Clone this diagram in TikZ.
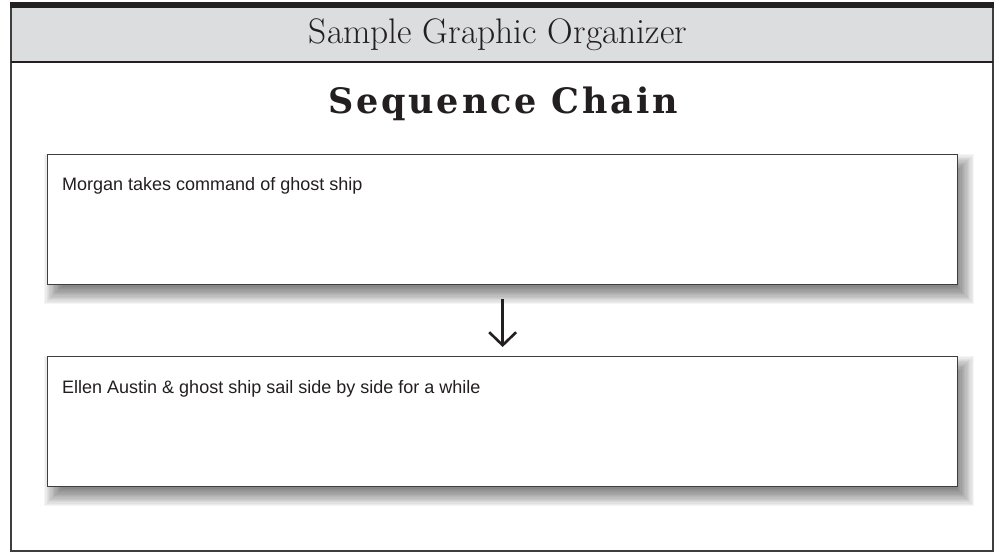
\documentclass[tikz,border=0pt]{standalone}
\usepackage{fontspec}
\newfontfamily\handfont{Liberation Sans}
\newfontfamily\slabfont[LetterSpace=8]{DejaVu Serif}
\usetikzlibrary{arrows.meta}
\definecolor{hdr}{RGB}{220,221,223}
\definecolor{ink}{RGB}{35,31,32}
\definecolor{frameline}{RGB}{62,62,62}
\tikzset{
  seqbox/.style={draw=frameline, line width=1.3pt, fill=white, anchor=north west,
    minimum width=910pt, minimum height=130pt, inner sep=0pt},
  boxtext/.style={anchor=base west, inner sep=0pt, text=ink, font=\handfont\fontsize{18}{22}\selectfont},
  flowarrow/.style={draw=ink, line width=2.6pt, -{Straight Barb[length=13pt,width=27pt]}}
}
\newcommand{\softshadow}[4]{%
  \foreach \k in {0,...,15}{%
    \fill[black, opacity=0.04] ({#1+7-10+\k*1.25},{#2+10-10+\k*1.25}) rectangle ({#3+7+10-\k*1.25},{#4+10+10-\k*1.25});
  }%
}
\begin{document}
\begin{tikzpicture}[x=1pt,y=-1pt]
\useasboundingbox (0,0) rectangle (996,552);
\fill[white] (0,0) rectangle (996,552);
% header band
\fill[hdr] (11,7) rectangle (993,62);
\draw[frameline, line width=1.4pt] (11,7) -- (11,551) -- (993,551) -- (993,7);
\fill[ink] (10.3,2) rectangle (993.7,7.5);
\draw[ink, line width=1.3pt] (11,62) -- (993,62);
\node[text=ink, inner sep=0pt, font=\fontsize{35.5}{40}\selectfont] (header) at (498,35) {Sample Graphic Organizer};
\node[text=ink, inner sep=0pt, font=\slabfont\bfseries\fontsize{35}{40}\selectfont] (title) at (503,104) {Sequence Chain};
% shadows
\softshadow{47}{154}{957}{284}
\softshadow{47}{356}{957}{486}
% boxes
\node[seqbox] (b1) at (47,154) {};
\node[seqbox] (b2) at (47,356) {};
\node[boxtext] (t1) at (62,190) {Morgan takes command of ghost ship};
\node[boxtext] (t2) at (62,393) {Ellen Austin \& ghost ship sail side by side for a while};
% arrow
\draw[flowarrow, shorten <=14pt, shorten >=9pt] (b1.south) -- (b2.north);
\end{tikzpicture}
\end{document}
